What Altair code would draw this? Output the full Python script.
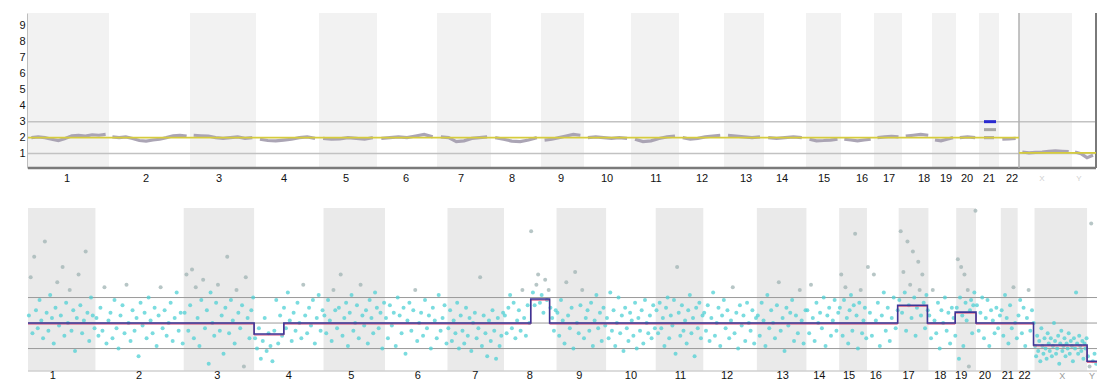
import altair as alt
import pandas as pd

chroms = [str(i) for i in range(1, 23)] + ["X", "Y"]

# ---- top panel: chromosome extents (plot units) and label positions
top_edges = [0, 81, 162, 228, 291, 349, 409, 463, 513, 556, 603, 651, 696, 736,
             778, 813, 846, 874, 904, 928, 951, 971, 991, 1044, 1068]
top_label_pos = [39, 118, 191, 256, 318, 378, 433, 484, 533, 579, 628, 674, 718,
                 754, 796, 834, 861, 896, 918, 939, 961, 984, 1014, 1051]
y_ticks = [1, 2, 3, 4, 5, 6, 7, 8, 9]

# copy-number trace per chromosome
t1 = [2.0, 2.05, 2.0, 1.9, 1.82, 1.95, 2.12, 2.15, 2.1, 2.18, 2.15, 2.2]
t2 = [2.05, 2.0, 2.05, 1.95, 1.82, 1.78, 1.85, 1.9, 2.0, 2.12, 2.15, 2.1]
t3 = [2.15, 2.12, 2.1, 2.0, 1.95, 2.0, 2.05, 1.95, 2.0]
t4 = [1.9, 1.82, 1.8, 1.85, 1.9, 2.0, 2.05, 1.95]
t5 = [1.95, 1.9, 1.92, 2.0, 1.95, 1.9, 2.0]
t6 = [1.95, 2.0, 2.05, 2.0, 2.1, 2.2, 2.05]
t7 = [2.05, 2.0, 1.75, 1.8, 1.95, 2.0, 2.05]
t8 = [2.0, 1.9, 1.78, 1.75, 1.85, 2.0]
t9 = [1.85, 1.9, 2.0, 2.1, 2.2, 2.15]
t10 = [2.0, 2.05, 2.0, 1.95, 2.0, 1.95]
t11 = [1.9, 1.75, 1.8, 1.95, 2.05, 2.1]
t12 = [2.0, 1.9, 1.95, 2.05, 2.1, 2.15]
t13 = [2.15, 2.1, 2.05, 2.0, 2.05]
t14 = [2.0, 1.95, 2.0, 2.05, 2.0]
t15 = [1.9, 1.8, 1.82, 1.85, 1.9]
t16 = [1.9, 1.85, 1.8, 1.85, 1.9]
t17 = [2.0, 2.05, 2.08, 2.05]
t18 = [2.1, 2.15, 2.2, 2.15]
t19 = [1.85, 1.8, 1.9, 2.0]
t20 = [2.0, 2.05, 2.0]
t21 = [2.0, 2.0]
t22 = [1.9, 1.92, 1.95]
tX = [1.1, 1.05, 1.08, 1.1, 1.15, 1.18, 1.15, 1.12]
tY = [1.1, 1.0, 0.75, 0.9]
top_traces = [t1, t2, t3, t4, t5, t6, t7, t8, t9, t10, t11, t12, t13, t14, t15,
              t16, t17, t18, t19, t20, t21, t22, tX, tY]

# expected level segments (start, end, value)
exp_start = [0, 991]
exp_end = [991, 1068]
exp_val = [2.0, 1.05]

# chr21 call markers
call_start = [956, 956]
call_end = [968, 968]
call_val = [3.0, 2.5]
call_col = ["#2a2ad0", "#a8a8a8"]

# ---- bottom panel
bot_edges = [0, 68, 157, 228, 298, 360, 423, 480, 533, 583, 633, 681, 735, 785,
             818, 846, 878, 908, 936, 956, 981, 998, 1015, 1068, 1078]
bot_label_pos = [25, 112, 191, 263, 326, 393, 451, 506, 556, 608, 658, 705, 761,
                 798, 828, 855, 888, 920, 941, 965, 988, 1005, 1043, 1073]

c1 = [0.3, 1.8, -0.4, 2.6, 0.5, -0.2, 0.9, 0.1, -0.6, 3.2, 0.4, -0.3, 1.1, 0.2, -0.8, 0.6, 1.6, -0.1, 0.3,
      2.2, -0.5, 0.8, 0.0, 1.3, -0.3, 0.5, -1.1, 0.2, 1.9, 0.7, -0.4, 0.1, 2.8, 0.4, -0.7, 1.0, 0.3, -0.2]
c2 = [0.2, -0.5, 0.6, -0.3, 1.4, -0.8, 0.1, 0.4, -0.6, 0.9, -0.2, -1.0, 0.3, 0.7, -0.4, 1.5, 0.0, -0.7, 0.5,
      -0.3, 0.2, -1.3, 0.8, -0.1, 0.4, -0.6, 1.0, 0.1, -0.4, 0.6, -0.9, 0.3, 1.4, -0.2, 0.5, -0.5, 0.0, 0.8,
      -0.7, 0.2, 1.2, -0.3, 0.4, -0.8]
c3 = [0.4, 1.9, -0.3, 0.7, 2.1, -0.6, 1.4, 0.2, -0.9, 0.9, 1.7, -0.2, 0.5, -1.6, 1.2, 0.0, -0.5, 0.8, 1.5,
      -0.3, 0.3, -1.2, 0.6, 2.6, -0.4, 0.9, 0.1, -0.8, 1.3, 0.4, -0.2, 0.7, -1.7, 1.8, 0.2, -0.6, 0.5, 1.0]
c4 = [-0.6, -1.0, -0.2, -1.4, -0.7, 0.2, -1.1, -0.4, -0.9, -1.5, -0.3, 0.9, -0.8, 0.3, -0.5, 0.6, -0.2, 1.2,
      0.1, -0.7, 0.4, -0.3, 0.8, 0.0, -0.6, 1.5, 0.3, -0.4, 0.6, -0.1, 0.9, -0.8, 0.2, 1.1, -0.3, 0.5]
c5 = [0.3, -0.4, 0.9, 0.1, -0.7, 1.3, 0.5, -0.2, 0.6, 1.9, -0.5, 0.2, 0.8, -0.9, 0.4, 1.1, -0.3, 0.0, 0.7,
      -0.6, 1.5, 0.3, -0.1, 0.5, -0.8, 0.9, 0.2, -0.4, 1.2, 0.6, -0.2, 0.4, -1.0, 0.8]
c6 = [0.2, -0.6, 0.7, -0.1, 0.4, -0.9, 1.0, 0.3, -0.4, 0.6, -1.2, 0.1, 0.8, -0.3, 0.5, 1.3, -0.7, 0.0, 0.4,
      -0.5, 0.9, -0.2, 0.3, -1.0, 0.6, 0.1, -0.6, 1.1, -0.3, 0.2, 0.7, -0.8]
c7 = [-0.2, 0.5, -0.7, 0.1, -0.4, 0.8, -1.0, 0.3, -0.3, -0.8, 0.6, -0.5, 0.2, -1.1, 0.0, 0.4, -0.6, -0.2,
      1.8, -0.9, 0.3, -0.4, -1.3, 0.1, -0.7, 0.5, -0.3, -1.4, 0.2, -0.9, -0.5, 0.4]
c8 = [0.3, -0.4, 0.6, 1.1, -0.2, 0.8, -0.6, 0.1, 0.5, -0.3, 1.3, 0.2, -0.5, 0.7, 0.0, 3.6, 1.2, 0.7, 1.5,
      1.9, 0.8, 1.1, 0.4, 1.7, 0.9, 1.3, 0.6, 0.2, -0.3, 0.5]
c9 = [0.4, -0.5, 0.9, 0.1, -0.8, 1.6, 0.3, -0.2, 0.6, -1.0, 2.0, 0.0, -0.4, 0.7, 1.3, -0.6, 0.2, 0.5, -0.3,
      0.8, -0.9, 0.1, 1.1, -0.2, 0.4, -0.7, 0.6, -0.1]
c10 = [0.2, -0.6, 1.2, -0.3, 0.5, -0.9, 0.0, 1.0, -0.4, 0.3, -1.1, 0.6, -0.2, -0.7, 0.4, 0.1, -0.5, 0.8,
       -1.0, 0.2, -0.3, 0.5, -0.8, 0.9, 0.0, -0.4, 0.3, -0.6, 0.7, -0.2]
c11 = [0.5, -0.4, 0.8, -0.2, 0.2, -0.9, 0.6, 1.0, -0.6, 0.3, -0.1, 0.9, -1.2, 2.2, 0.4, -0.5, 0.7, -0.3,
       0.1, -0.8, 0.5, 1.1, -0.4, 0.2, -1.3, 0.6, -0.2, 0.8, -0.6, 0.3]
c12 = [0.4, -0.3, 0.7, -0.7, 0.2, 1.2, -0.5, 0.0, 0.6, -0.9, 0.3, 0.9, -0.2, 0.5, -0.6, 0.1, 1.4, -0.4,
       0.4, -1.0, 0.7, -0.1, 0.3, -0.7, 0.8, 0.0, -0.3, 0.5, -0.8, 0.2]
c13 = [0.3, -0.5, 0.8, 0.1, -0.9, 1.1, -0.2, 0.5, 0.0, -0.6, 0.7, 1.6, -0.3, 0.2, -1.1, 0.6, -0.1, 0.4,
       0.9, -0.7, 0.3, -0.4, 1.3, 0.1, -0.8, 0.5]
c14 = [0.5, -0.4, 1.5, 0.2, -0.7, 0.8, 0.0, 0.4, -0.2, 1.0, -0.9, 0.3, 0.6, -0.5, 0.1, 0.9, -0.3, 0.4]
c15 = [0.6, 1.9, -0.5, 0.9, 1.4, 0.2, -0.8, 0.5, 1.1, -0.3, 0.7, 3.5, 0.3, -1.0, 0.8, 1.3, -0.4, 0.1, 0.6, -0.6]
c16 = [2.2, 0.4, -0.5, 1.9, 0.1, 0.8, -0.9, 0.3, 1.2, -0.3, 0.6, -0.7, 0.2, 1.0, -0.2, 0.5]
c17 = [0.9, 3.6, 0.4, 2.0, 1.2, -0.3, 3.2, 0.7, 1.5, 0.2, 2.8, 1.0, -0.5, 0.6, 2.4, 1.3, 0.3, 1.9, 0.8,
       -0.2, 1.1, 0.5]
c18 = [0.3, -0.6, 1.3, 0.1, -0.4, 0.8, -1.0, 0.5, 0.0, 1.0, -0.3, 0.4, -0.8, 0.6, 0.2, -0.5]
c19 = [0.6, 2.5, -1.4, 1.0, 2.2, 0.3, -0.9, 1.9, 0.8, 0.1, 1.3, -1.7, 0.5, 0.9, -0.4, 0.7, 1.2, 4.4]
c20 = [0.7, -0.3, 0.4, 1.0, -0.6, 0.2, 0.9, -0.9, 0.5, 0.1, -0.4, 0.6, -0.2, 0.3]
c21 = [0.5, -0.5, 1.1, 0.2, -0.8, 0.7, -0.2, 1.4, 0.0, -0.6]
c22 = [0.3, 0.9, -0.4, 0.6, -0.9, 0.2, 1.3, -0.3, 0.5, 0.0]
cX = [-0.9, -1.3, -0.5, -1.1, -0.7, -1.5, -0.2, -0.9, -1.2, -0.6, -1.0, -1.4, -0.4, -0.8, -1.1, -0.6, -1.3,
      -0.9, 0.0, -0.7, -1.2, -1.0, -0.5, -1.6, -0.8, -0.3, -1.1, -0.9, -0.6, -1.3, -0.8, -1.0, -0.4, -1.2,
      -0.7, -0.9, -1.5, -0.6, -1.0, 1.2, -0.8, -1.2, -0.5, -0.9, -1.1, -0.7, -1.4, -0.8, -1.0, -0.6]
cY = [-1.3, -1.7, 3.9, -1.5, -1.2, -1.6]
bot_points = [c1, c2, c3, c4, c5, c6, c7, c8, c9, c10, c11, c12, c13, c14, c15,
              c16, c17, c18, c19, c20, c21, c22, cX, cY]

# segmented ratio (step line)
step_x = [0, 228, 258, 507, 526, 877, 907, 935, 956, 1014, 1068, 1078]
step_y = [0, -0.43, 0, 0.94, 0, 0.7, 0, 0.43, 0, -0.86, -1.5, -1.5]

# ---------------- tables ----------------
def bands(edges):
    return pd.DataFrame({"c": chroms, "start": edges[:-1], "end": edges[1:],
                         "shade": [i % 2 == 0 for i in range(len(chroms))]})

top_band_df = bands(top_edges)
bot_band_df = bands(bot_edges)

rows = []
for i, vals in enumerate(top_traces):
    s, e = top_edges[i], top_edges[i + 1]
    n = len(vals)
    for j, v in enumerate(vals):
        rows.append({"c": chroms[i], "x": s + (j + 0.5) / n * (e - s), "v": v})
trace_df = pd.DataFrame(rows)

rows = []
for i, vals in enumerate(bot_points):
    s, e = bot_edges[i], bot_edges[i + 1]
    n = len(vals)
    for j, v in enumerate(vals):
        rows.append({"c": chroms[i], "x": s + (j + 0.5) / n * (e - s), "v": v})
pts_df = pd.DataFrame(rows)

exp_df = pd.DataFrame({"s": exp_start, "e": exp_end, "v": exp_val})
call_df = pd.DataFrame({"s": call_start, "e": call_end, "v": call_val, "col": call_col})
step_df = pd.DataFrame({"x": step_x, "y": step_y})
top_lab_df = pd.DataFrame({"c": chroms, "x": top_label_pos})
bot_lab_df = pd.DataFrame({"c": chroms, "x": bot_label_pos})

FONT = "Liberation Sans"
W = 1069            # bottom panel width
TW, TH = 1068, 155  # top panel width / height
GAP = 40
BH = 163
H = TH + GAP + BH   # 358
YMIN_B = -1.88

xs_top = alt.Scale(domain=[0, 1068], range=[0, TW], nice=False, zero=False)
ys_top = alt.Scale(domain=[0.1, 9.8], range=[TH, 0], nice=False, zero=False)
xs_bot = alt.Scale(domain=[0, 1078], range=[0, W], nice=False, zero=False)
ys_bot = alt.Scale(domain=[YMIN_B, 4.51], range=[H, TH + GAP], nice=False, zero=False)

def XT(f):
    return alt.X(f, scale=xs_top, axis=None)

def YT(f):
    return alt.Y(f, scale=ys_top, axis=None)

def XB(f):
    return alt.X(f, scale=xs_bot, axis=None)

def YB(f):
    return alt.Y(f, scale=ys_bot, axis=None)

is_xy = "datum.c == 'X' || datum.c == 'Y'"
AX = "#7a7a7a"

# ---------------- top panel ----------------
tb = alt.Chart(top_band_df).transform_filter("datum.shade").mark_rect(color="#f2f2f2").encode(
    x=XT("start:Q"), x2="end:Q", y=alt.value(0), y2=alt.value(TH))

t_ref = alt.Chart(pd.DataFrame({"v": [1, 3], "s": [0, 0], "e": [1068, 1068]})).mark_rule(
    color="#c2c2c2", strokeWidth=1.5).encode(
    x=XT("s:Q"), x2="e:Q",
    y=alt.Y("v:Q", scale=ys_top,
            axis=alt.Axis(values=y_ticks, ticks=False, grid=False, domain=True,
                          domainColor=AX, domainWidth=2, labelPadding=3,
                          labelFont=FONT, labelFontSize=11, labelColor="#111", title=None)))

t_xaxis = alt.Chart(pd.DataFrame({"s": [0], "e": [1068], "v": [0.1]})).mark_rule(
    color=AX, strokeWidth=2.5).encode(x=XT("s:Q"), x2="e:Q", y=YT("v:Q"))

t_raxis = alt.Chart(pd.DataFrame({"x": [1068], "v0": [0.1], "v1": [9.8]})).mark_rule(
    color=AX, strokeWidth=2).encode(x=XT("x:Q"), y=YT("v0:Q"), y2="v1:Q")

t_sep = alt.Chart(pd.DataFrame({"x": [top_edges[22]]})).mark_rule(
    color="#b0b0b0", strokeWidth=1.5).encode(x=XT("x:Q"), y=alt.value(0), y2=alt.value(TH))

t_trace = alt.Chart(trace_df).mark_line(color="#a29bad", strokeWidth=3.2, opacity=0.9).encode(
    x=XT("x:Q"), y=YT("v:Q"), detail="c:N")

t_exp = alt.Chart(exp_df).mark_rule(color="#d6cc3c", strokeWidth=1.8).encode(
    x=XT("s:Q"), x2="e:Q", y=YT("v:Q"))

t_call = alt.Chart(call_df).mark_rule(strokeWidth=3).encode(
    x=XT("s:Q"), x2="e:Q", y=YT("v:Q"), color=alt.Color("col:N", scale=None))

t_lab = alt.Chart(top_lab_df).mark_text(font=FONT, baseline="middle", align="center").encode(
    x=XT("x:Q"), y=alt.value(TH + 10.5), text="c:N",
    color=alt.condition(is_xy, alt.value("#cfcfcf"), alt.value("#111")),
    size=alt.condition(is_xy, alt.value(8), alt.value(11)))

# ---------------- bottom panel ----------------
bb = alt.Chart(bot_band_df).transform_filter("datum.shade").mark_rect(color="#eaeaea").encode(
    x=XB("start:Q"), x2="end:Q", y=alt.value(TH + GAP), y2=alt.value(H))

b_ref = alt.Chart(pd.DataFrame({"v": [-1, 0, 1], "s": [0, 0, 0], "e": [1078, 1078, 1078]})).mark_rule(
    color="#9a9a9a", strokeWidth=1).encode(x=XB("s:Q"), x2="e:Q", y=YB("v:Q"))

b_base = alt.Chart(pd.DataFrame({"v": [YMIN_B], "s": [0], "e": [1078]})).mark_rule(
    color="#d0d0d0", strokeWidth=1.5).encode(x=XB("s:Q"), x2="e:Q", y=YB("v:Q"))

b_pts = alt.Chart(pts_df).mark_circle(size=16, opacity=0.75).encode(
    x=XB("x:Q"), y=YB("v:Q"),
    color=alt.condition("datum.v > 1.2 || datum.v < -1.65", alt.value("#9fb3b3"), alt.value("#4fd0d4")))

b_step_r = alt.Chart(step_df).mark_line(interpolate="step-after", color="#d04a78", strokeWidth=1,
                                        yOffset=1).encode(x=XB("x:Q"), y=YB("y:Q"))

b_step = alt.Chart(step_df).mark_line(interpolate="step-after", color="#3d3596",
                                      strokeWidth=1.6).encode(x=XB("x:Q"), y=YB("y:Q"))

b_lab = alt.Chart(bot_lab_df).mark_text(font=FONT, baseline="middle", align="center").encode(
    x=XB("x:Q"), y=alt.value(H + 5), text="c:N",
    color=alt.condition(is_xy, alt.value("#9a9a9a"), alt.value("#111")),
    size=alt.condition(is_xy, alt.value(9), alt.value(11)))

chart = alt.layer(
    tb, t_ref, t_xaxis, t_raxis, t_sep, t_trace, t_exp, t_call, t_lab,
    bb, b_ref, b_base, b_pts, b_step_r, b_step, b_lab
).resolve_scale(x="independent", y="independent").resolve_axis(
    x="independent", y="independent"
).properties(
    width=1089, height=372,
    autosize=alt.AutoSizeParams(type="fit", contains="padding"),
    padding={"left": 10, "top": 4, "right": 0, "bottom": 0}
).configure_view(strokeWidth=0)

chart.save("out.html", embed_options={"renderer": "svg", "actions": False})
